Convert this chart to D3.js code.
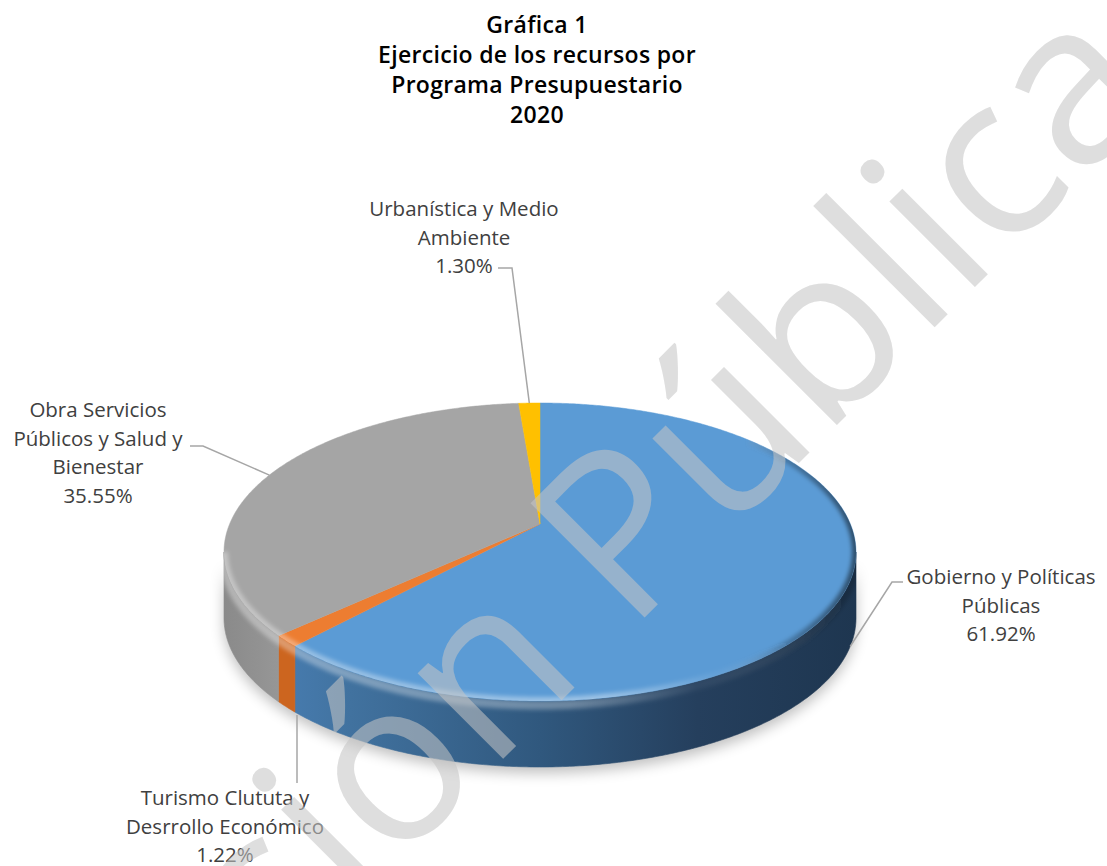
<!DOCTYPE html>
<html>
<head>
<meta charset="utf-8">
<script src="https://cdn.jsdelivr.net/npm/d3@7"></script>
<style>
  body { margin: 0; background: #fff; }
  svg { display: block; }
</style>
</head>
<body>
<div id="chart"></div>
<script>
// data
const categories = ["Gobierno y Políticas Públicas", "Turismo Clututa y Desrrollo Económico",
    "Obra Servicios Públicos y Salud y Bienestar", "Urbanística y Medio Ambiente"];
const values = [61.92, 1.22, 35.55, 1.30];
const labelLines = [
    ["Gobierno y Políticas", "Públicas", "61.92%"],
    ["Turismo Clututa y", "Desrrollo Económico", "1.22%"],
    ["Obra Servicios", "Públicos y Salud y", "Bienestar", "35.55%"],
    ["Urbanística y Medio", "Ambiente", "1.30%"]
];
const titleLines = ["Gráfica 1", "Ejercicio de los recursos por", "Programa Presupuestario", "2020"];

const topColors = ["#5b9bd5", "#ed7d31", "#a5a5a5", "#ffc000"];

const width = 1107, height = 866;

const svg = d3.select("#chart").append("svg")
    .attr("width", width)
    .attr("height", height);

const defs = svg.append("defs");

// pie geometry (ellipse of the top face + perspective centre)
const g = {cx: 540, cy: 552, rx: 316, ry: 149, apexY: 524, depth: 66};
const t = (g.apexY - g.cy) / g.ry;
const beta = Math.atanh(t);
const ch = Math.cosh(beta), sh = Math.sinh(beta);

// point on the rim for an angle measured clockwise from 12 o'clock
function rim(a) {
    let x = Math.sin(a), y = -Math.cos(a);
    let w = y * sh + ch;
    return [g.cx + g.rx * x / w, g.cy + g.ry * (y * ch + sh) / w];
}
function arcPoints(a0, a1) {
    let n = Math.max(2, Math.ceil(Math.abs(a1 - a0) / (Math.PI / 360)));
    return d3.range(n + 1).map(i => rim(a0 + (a1 - a0) * i / n));
}

const pie = d3.pie().sort(null).value(d => d)(values);

// side colours
const sideGrad = defs.append("linearGradient")
    .attr("id", "sideBlue")
    .attr("gradientUnits", "userSpaceOnUse")
    .attr("x1", g.cx - g.rx).attr("x2", g.cx + g.rx)
    .attr("y1", 0).attr("y2", 0);
[[0, "#4c84bd"], [0.2, "#41729f"], [0.5, "#30587e"], [0.75, "#253f5d"], [1, "#1e3650"]]
    .forEach(s => sideGrad.append("stop").attr("offset", s[0]).attr("stop-color", s[1]));

const grayGrad = defs.append("linearGradient")
    .attr("id", "sideGray")
    .attr("gradientUnits", "userSpaceOnUse")
    .attr("x1", g.cx - g.rx).attr("x2", g.cx - g.rx + 80)
    .attr("y1", 0).attr("y2", 0);
[[0, "#8a8a8a"], [1, "#9c9c9c"]]
    .forEach(s => grayGrad.append("stop").attr("offset", s[0]).attr("stop-color", s[1]));

const sideFills = ["url(#sideBlue)", "#cc651f", "url(#sideGray)", "#c99700"];

// soft shadow
defs.append("filter").attr("id", "shadow")
    .attr("x", "-20%").attr("y", "-20%").attr("width", "140%").attr("height", "140%")
    .append("feGaussianBlur").attr("stdDeviation", 7);
defs.append("filter").attr("id", "soft")
    .attr("x", "-10%").attr("y", "-10%").attr("width", "120%").attr("height", "120%")
    .append("feGaussianBlur").attr("stdDeviation", 2.2);

const outline = arcPoints(0, 2 * Math.PI);
const aVis0 = Math.acos(t), aVis1 = 2 * Math.PI - Math.acos(t);
const frontTop = arcPoints(aVis0, aVis1);
const frontBottom = frontTop.map(p => [p[0], p[1] + g.depth]).reverse();

svg.append("path")
    .attr("d", "M" + frontTop.concat(frontBottom).map(p => p.join(",")).join("L") + "Z")
    .attr("transform", "translate(0,6)")
    .attr("fill", "#000")
    .attr("opacity", 0.25)
    .attr("filter", "url(#shadow)");

// sides
const sides = svg.append("g");
pie.forEach((d, i) => {
    let a0 = Math.max(d.startAngle, aVis0), a1 = Math.min(d.endAngle, aVis1);
    if (a1 <= a0) return;
    let top = arcPoints(a0, a1);
    let bottom = top.map(p => [p[0], p[1] + g.depth]).reverse();
    sides.append("path")
        .attr("d", "M" + top.concat(bottom).map(p => p.join(",")).join("L") + "Z")
        .attr("fill", sideFills[i])
        .attr("stroke", sideFills[i])
        .attr("stroke-width", 0.6);
});

// bevel shading on the side just under the rim
const bevelGrad = defs.append("linearGradient")
    .attr("id", "bevel")
    .attr("gradientUnits", "userSpaceOnUse")
    .attr("x1", g.cx - g.rx).attr("x2", g.cx + g.rx)
    .attr("y1", 0).attr("y2", 0);
[[0, "rgba(255,255,255,0.35)"], [0.55, "rgba(255,255,255,0.3)"], [0.75, "rgba(255,255,255,0.05)"], [1, "rgba(0,0,0,0.2)"]]
    .forEach(s => bevelGrad.append("stop").attr("offset", s[0]).attr("stop-color", s[1]));

defs.append("clipPath").attr("id", "sideClip")
    .append("path")
    .attr("d", "M" + frontTop.concat(frontBottom).map(p => p.join(",")).join("L") + "Z");

sides.append("path")
    .attr("d", "M" + frontTop.map(p => [p[0], p[1] + 4].join(",")).join("L"))
    .attr("fill", "none")
    .attr("stroke", "url(#bevel)")
    .attr("stroke-width", 9)
    .attr("filter", "url(#soft)")
    .attr("clip-path", "url(#sideClip)");

// top faces
const apex = [g.cx, g.apexY];
const tops = svg.append("g");
pie.forEach((d, i) => {
    let pts = [apex].concat(arcPoints(d.startAngle, d.endAngle));
    tops.append("path")
        .attr("d", "M" + pts.map(p => p.join(",")).join("L") + "Z")
        .attr("fill", topColors[i])
        .attr("stroke", topColors[i])
        .attr("stroke-width", 0.5);
});

// rim highlight / shade on the top face
defs.append("clipPath").attr("id", "topClip")
    .append("path")
    .attr("d", "M" + outline.map(p => p.join(",")).join("L") + "Z");

const rimGrad = defs.append("linearGradient")
    .attr("id", "rimGrad")
    .attr("gradientUnits", "userSpaceOnUse")
    .attr("x1", g.cx - g.rx).attr("x2", g.cx + g.rx)
    .attr("y1", 0).attr("y2", 0);
[[0, "rgba(255,255,255,0.35)"], [0.6, "rgba(255,255,255,0.4)"], [0.78, "rgba(255,255,255,0.05)"], [0.9, "rgba(0,0,0,0.25)"], [1, "rgba(0,0,0,0.5)"]]
    .forEach(s => rimGrad.append("stop").attr("offset", s[0]).attr("stop-color", s[1]));

const rimArc = arcPoints(aVis0 - 0.9, aVis1);
tops.append("path")
    .attr("d", "M" + rimArc.map(p => p.join(",")).join("L"))
    .attr("fill", "none")
    .attr("stroke", "url(#rimGrad)")
    .attr("stroke-width", 8)
    .attr("filter", "url(#soft)")
    .attr("clip-path", "url(#topClip)");

// labels and leader lines
const labelLayout = [
    {x: 1001, y: 584, from: [[903, 582], [892, 582]], onSide: true},
    {x: 225, y: 805, from: [[297, 783]], vertical: true},
    {x: 98, y: 417, from: [[190, 446], [203, 446]]},
    {x: 464, y: 216, from: [[498, 268], [512, 268]]}
];
const lineH = 28.6;

const labels = svg.append("g");
pie.forEach((d, i) => {
    let L = labelLayout[i];
    let mid = (d.startAngle + d.endAngle) / 2;
    let p = rim(mid);
    let end = L.onSide || L.vertical ? [p[0], p[1] + g.depth + (L.vertical ? 8 : 0)] : p;
    let pts = L.from.slice();
    if (L.vertical) {
        pts = [[pts[0][0], pts[0][1]], [pts[0][0], end[1]]];
    } else {
        pts.push(end);
    }
    labels.append("path")
        .attr("d", d3.line()(pts))
        .attr("fill", "none")
        .attr("stroke", "#a6a6a6")
        .attr("stroke-width", 1.5);

    let txt = labels.append("text")
        .attr("text-anchor", "middle")
        .attr("font-family", "'Open Sans', sans-serif")
        .attr("font-size", 20.5)
        .attr("fill", "#404040");
    labelLines[i].forEach((line, j) => {
        txt.append("tspan")
            .attr("x", L.x)
            .attr("y", L.y + j * lineH)
            .text(line);
    });
});

// title
const title = svg.append("text")
    .attr("text-anchor", "middle")
    .attr("font-family", "'Open Sans', sans-serif")
    .attr("font-weight", 600)
    .attr("font-size", 23)
    .attr("letter-spacing", 0.3)
    .attr("fill", "#000");
titleLines.forEach((line, j) => {
    title.append("tspan")
        .attr("x", 537)
        .attr("y", 33 + j * 30)
        .text(line);
});

// watermark
const wmSize = 226;
const wm = svg.append("text")
    .attr("font-family", "'Open Sans', sans-serif")
    .attr("font-size", wmSize)
    .attr("fill", "rgb(197,197,197)")
    .attr("opacity", 0.56)
    .text("Versión Pública");
const offs = wm.node().getSubStringLength(0, 8);
wm.attr("x", -offs)
    .attr("transform", "translate(629,633) rotate(-45)");
</script>
</body>
</html>
